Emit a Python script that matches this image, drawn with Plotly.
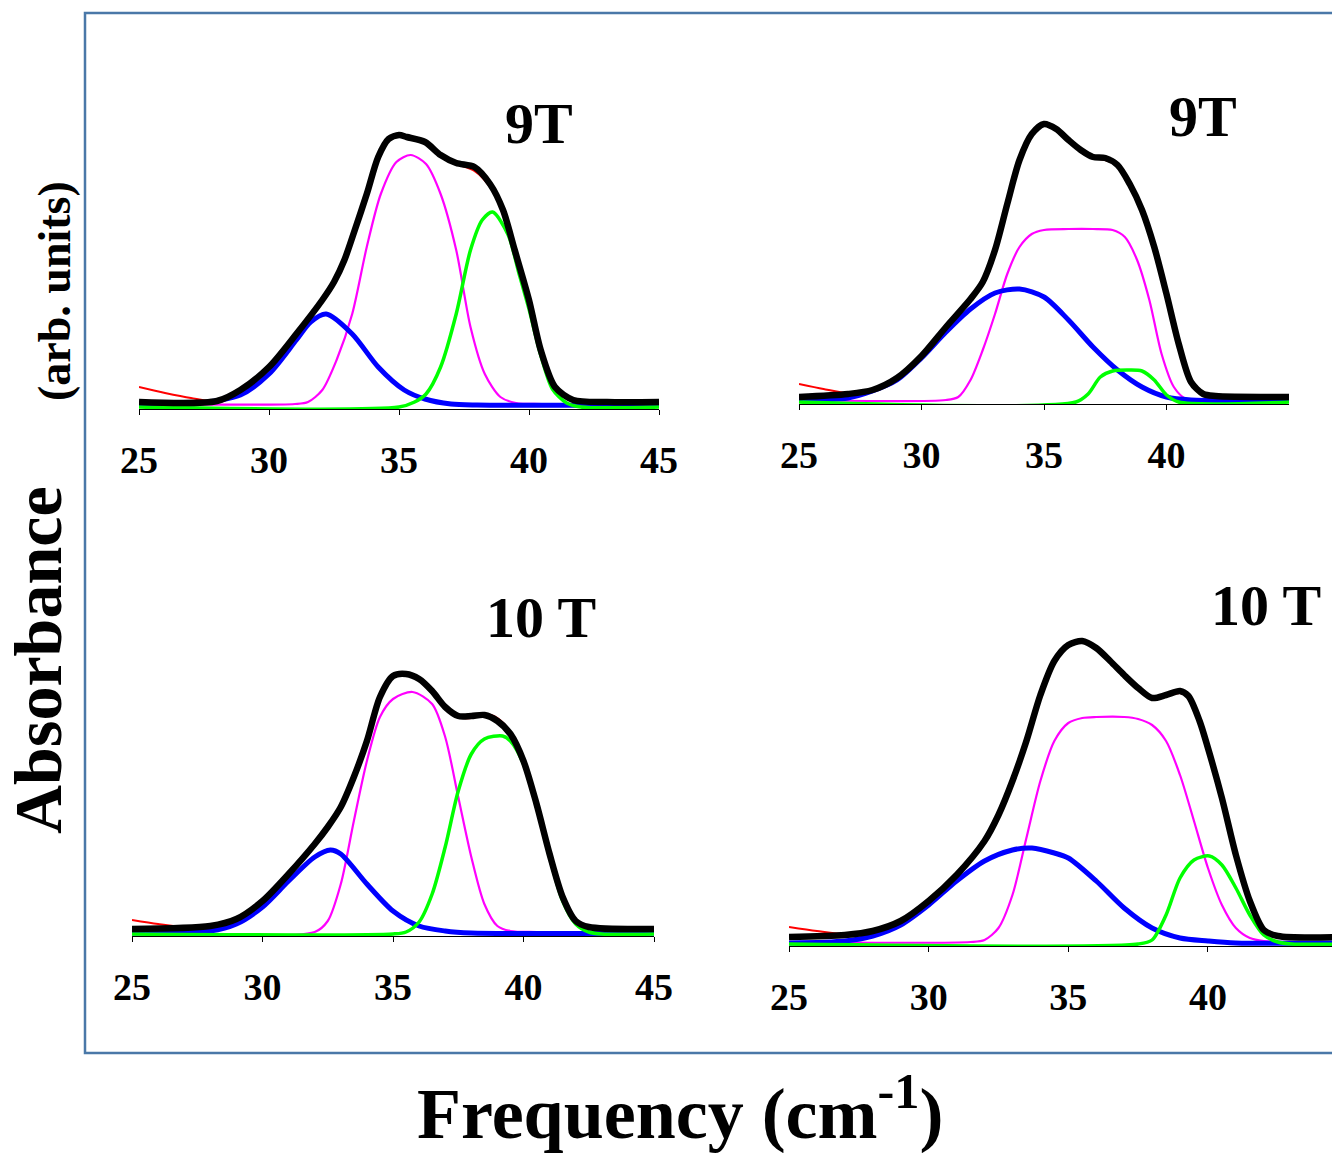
import plotly.graph_objects as go

W, H = 1340, 1153
OFF = 8  # page body margin of the browser; positions below are screen pixels

# ---------------- data (heights in arbitrary absorbance units) ----------------
TICKS_FULL = [25, 30, 35, 40, 45]
TICKS_SHORT = [25, 30, 35, 40]
LABELS = ["9T", "9T", "10 T", "10 T"]

# Top-left panel (9T)
TL_BLACK_X = [25, 28, 28.9, 30, 31.05, 32.05, 32.5, 32.9, 33.3, 33.76, 34.2, 34.6, 35, 35.3, 36.0, 36.6, 37.2, 37.9, 38.5, 39.0, 39.45, 40, 40.45, 41.0, 41.7, 43, 45]
TL_BLACK_Y = [5, 6, 17, 40, 73, 107, 125, 147, 177, 213, 250, 268, 272, 270, 265, 252, 244, 240, 223, 197, 157, 107, 57, 20, 7, 5, 5]
TL_RED_X = [25, 26, 27, 28, 28.9, 30, 31.05, 32.05, 32.5, 32.9, 33.3, 33.76, 34.2, 34.6, 35, 35.3, 36.0, 36.6, 37.2, 37.9, 38.5, 39.0, 39.45, 40, 40.45, 41.0, 41.7, 43, 45]
TL_RED_Y = [20, 14, 9, 6, 17, 41, 74, 108, 126, 149, 179, 214, 250, 268, 271, 269, 264, 251, 243, 236, 220, 196, 158, 107, 57, 20, 7, 5, 5]
TL_BLUE_X = [25, 27, 28.9, 30, 31.05, 31.6, 32.2, 33.2, 34.2, 35.2, 36, 37, 38, 45]
TL_BLUE_Y = [2, 3, 12, 33, 67, 85, 93, 73, 40, 17, 8, 3, 2, 2]
TL_MAG_X = [25, 31, 31.5, 32.05, 32.6, 33.2, 33.76, 34.3, 34.9, 35.45, 36.04, 36.6, 37.2, 37.75, 38.3, 38.9, 39.5, 40.5, 45]
TL_MAG_Y = [3, 3, 5, 17, 47, 93, 160, 213, 245, 252, 243, 213, 157, 80, 33, 10, 4, 3, 3]
TL_GRN_X = [25, 35, 35.6, 36.04, 36.6, 37.2, 37.75, 38.2, 38.6, 39.2, 39.6, 40.0, 40.45, 40.9, 41.45, 42, 45]
TL_GRN_Y = [0, 0, 5, 13, 40, 93, 157, 187, 195, 172, 135, 98, 52, 18, 4, 0, 0]

# Top-right panel (9T)
TR_BLACK_X = [25, 27, 28, 29, 30, 31, 32, 32.5, 33, 33.5, 34, 34.5, 35, 35.5, 36, 36.5, 37, 37.5, 38, 38.5, 39, 39.5, 40, 40.5, 41, 41.5, 42, 45]
TR_BLACK_Y = [5, 8, 12, 24, 46, 75, 103, 120, 152, 198, 242, 268, 278, 273, 262, 252, 245, 244, 237, 218, 192, 155, 108, 58, 20, 8, 6, 5]
TR_RED_X = [25, 26, 27, 28, 29, 30, 31, 32, 32.5, 33, 33.5, 34, 34.5, 35, 35.5, 36, 36.5, 37, 37.5, 38, 38.5, 39, 39.5, 40, 40.5, 41, 41.5, 42, 45]
TR_RED_Y = [18, 13, 9, 12, 24, 47, 76, 104, 121, 153, 199, 242, 267, 277, 272, 261, 251, 244, 242, 236, 220, 195, 160, 112, 60, 21, 8, 6, 5]
TR_BLUE_X = [25, 27, 28, 29, 30, 31, 32, 33, 34, 35, 36, 37, 38, 39, 40, 41, 45]
TR_BLUE_Y = [2, 4, 11, 22, 44, 70, 93, 109, 113, 105, 82, 55, 32, 15, 5, 2, 2]
TR_MAG_X = [25, 31, 31.5, 32, 32.5, 33, 33.5, 34, 34.5, 35, 36, 37, 37.8, 38.3, 38.8, 39.3, 39.8, 40.3, 40.8, 41.5, 45]
TR_MAG_Y = [2, 2, 5, 22, 52, 88, 128, 155, 168, 172, 173, 173, 172, 165, 142, 102, 48, 15, 3, 2, 2]
TR_GRN_X = [25, 36.3, 36.8, 37.3, 37.8, 38.5, 39.0, 39.5, 40.0, 40.5, 45]
TR_GRN_Y = [0, 0, 8, 25, 31, 32, 31, 22, 7, 0, 0]

# Bottom-left panel (10 T)
BL_BLACK_X = [25, 28, 29, 30, 31, 32, 32.5, 33, 33.5, 34, 34.5, 35, 35.5, 36, 36.5, 37, 37.5, 38, 38.5, 39, 39.5, 40, 40.5, 41, 41.5, 42, 42.5, 45]
BL_BLACK_Y = [5, 8, 15, 33, 60, 90, 107, 127, 157, 193, 237, 258, 260, 255, 243, 227, 218, 218, 219, 213, 200, 173, 130, 80, 37, 13, 7, 5]
BL_RED_X = [25, 26, 27, 28, 29, 30, 31, 32, 32.5, 33, 33.5, 34, 34.5, 35, 35.5, 36, 36.5, 37, 37.5, 38, 38.5, 39, 39.5, 40, 40.5, 41, 41.5, 42, 42.5, 45]
BL_RED_Y = [14, 10, 7, 8, 16, 34, 61, 91, 108, 128, 158, 195, 238, 258, 259, 254, 242, 226, 217, 216, 220, 216, 202, 174, 131, 80, 37, 13, 7, 5]
BL_BLUE_X = [25, 28, 29, 30, 31, 32, 32.6, 33, 34, 35, 36, 37, 38, 45]
BL_BLUE_Y = [1, 3, 10, 27, 53, 77, 84, 80, 50, 23, 8, 3, 1, 1]
BL_MAG_X = [25, 32, 32.5, 33, 33.5, 34, 34.5, 35, 35.75, 36.5, 37, 37.5, 38, 38.5, 39, 39.5, 40.5, 45]
BL_MAG_Y = [2, 2, 13, 50, 113, 173, 217, 235, 242, 230, 197, 137, 77, 30, 8, 3, 2, 2]
BL_GRN_X = [25, 35, 35.5, 36, 36.5, 37, 37.5, 38, 38.5, 39.2, 39.5, 40, 40.5, 41, 41.5, 42, 42.5, 43, 45]
BL_GRN_Y = [0, 0, 2, 12, 40, 87, 143, 180, 195, 198, 193, 170, 127, 77, 33, 10, 2, 0, 0]

# Bottom-right panel (10 T)
BR_BLACK_X = [25, 27, 28, 29, 30, 31, 32, 32.5, 33, 33.5, 34, 34.5, 35, 35.5, 36, 36.5, 37, 37.5, 38, 38.5, 39, 39.3, 39.7, 40, 40.5, 41, 41.5, 42, 42.5, 45]
BR_BLACK_Y = [7, 9, 13, 23, 43, 69, 103, 129, 163, 203, 249, 283, 299, 303, 296, 283, 269, 256, 246, 249, 253, 248, 223, 196, 146, 89, 43, 14, 8, 7]
BR_RED_X = [25, 26, 27, 28, 29, 30, 31, 32, 32.5, 33, 33.5, 34, 34.5, 35, 35.5, 36, 36.5, 37, 37.5, 38, 38.5, 39, 39.3, 39.7, 40, 40.5, 41, 41.5, 42, 42.5, 45]
BR_RED_Y = [17, 13, 10, 13, 23, 44, 70, 104, 130, 164, 204, 249, 282, 298, 302, 295, 282, 268, 255, 246, 248, 251, 247, 225, 199, 148, 90, 43, 14, 8, 7]
BR_BLUE_X = [25, 27, 28, 29, 30, 31, 32, 33, 33.7, 34.5, 35, 36, 37, 38, 39, 40, 41, 45]
BR_BLUE_Y = [1, 3, 8, 19, 39, 63, 83, 94, 96, 91, 86, 63, 36, 16, 6, 3, 1, 1]
BR_MAG_X = [25, 31.5, 32, 32.5, 33, 33.5, 34, 34.5, 35, 35.5, 36, 37, 37.5, 38, 38.5, 39, 39.5, 40, 40.5, 41, 41.5, 42, 43, 45]
BR_MAG_Y = [2, 2, 4, 16, 49, 106, 163, 203, 221, 226, 227, 227, 225, 219, 203, 169, 123, 76, 39, 16, 6, 3, 2, 2]
BR_GRN_X = [25, 37.5, 38, 38.5, 39, 39.5, 40.05, 40.5, 41, 41.5, 42, 42.5, 43, 45]
BR_GRN_Y = [0, 0, 4, 29, 66, 84, 88, 79, 56, 29, 9, 2, 0, 0]


def sx(px):
    return (px - OFF) / W


def sy(py):
    return 1 - (py - OFF) / H


# ---------------- layout geometry (screen pixels) ----------------
PANELS = [
    dict(x0=139, x1=659, xmax=45, yb=409, yt=100, ymin=-2, ticks=TICKS_FULL),
    dict(x0=799, x1=1289, xmax=45, yb=404, yt=95, ymin=-2, ticks=TICKS_SHORT),
    dict(x0=132, x1=654, xmax=45, yb=936, yt=640, ymin=-2, ticks=TICKS_FULL),
    dict(x0=789, x1=W + OFF, xmax=25 + (W + OFF - 789) / 27.93, yb=946, yt=620, ymin=-2, ticks=TICKS_SHORT),
]

SERIES = [
    (TL_MAG_X, TL_MAG_Y, TL_BLUE_X, TL_BLUE_Y, TL_GRN_X, TL_GRN_Y, TL_RED_X, TL_RED_Y, TL_BLACK_X, TL_BLACK_Y),
    (TR_MAG_X, TR_MAG_Y, TR_BLUE_X, TR_BLUE_Y, TR_GRN_X, TR_GRN_Y, TR_RED_X, TR_RED_Y, TR_BLACK_X, TR_BLACK_Y),
    (BL_MAG_X, BL_MAG_Y, BL_BLUE_X, BL_BLUE_Y, BL_GRN_X, BL_GRN_Y, BL_RED_X, BL_RED_Y, BL_BLACK_X, BL_BLACK_Y),
    (BR_MAG_X, BR_MAG_Y, BR_BLUE_X, BR_BLUE_Y, BR_GRN_X, BR_GRN_Y, BR_RED_X, BR_RED_Y, BR_BLACK_X, BR_BLACK_Y),
]

FONT = "Liberation Serif, Times New Roman, serif"

fig = go.Figure()
layout = dict(
    template="none",
    width=W, height=H, margin=dict(l=0, r=0, t=0, b=0, autoexpand=False),
    paper_bgcolor="white", plot_bgcolor="rgba(0,0,0,0)", showlegend=False,
    font=dict(family=FONT, color="black"),
)

styles = [
    ("#ff00ff", 2.2),   # magenta
    ("#0000ff", 5.0),   # blue
    ("#00ff00", 3.5),   # green
    ("#ff0000", 2.0),   # red fit
    ("#000000", 6.5),   # black data
]

for i, (p, s) in enumerate(zip(PANELS, SERIES)):
    n = i + 1
    xa = f"x{n}" if n > 1 else "x"
    ya = f"y{n}" if n > 1 else "y"
    for k, (col, wdt) in enumerate(styles):
        fig.add_trace(go.Scatter(
            x=s[2 * k], y=s[2 * k + 1], mode="lines",
            line=dict(color=col, width=wdt, shape="spline", smoothing=0.8),
            xaxis=xa, yaxis=ya, hoverinfo="skip",
        ))
    span_y = p["yb"] - p["yt"]
    layout[f"xaxis{n if n > 1 else ''}"] = dict(
        domain=[sx(p["x0"]), min(1.0, sx(p["x1"]))], range=[25, p["xmax"]],
        anchor=ya, showline=True, linecolor="black", linewidth=1,
        ticks="outside", ticklen=5, tickcolor="black", tickwidth=1,
        tickvals=p["ticks"], ticktext=[str(t) for t in p["ticks"]],
        showgrid=False, zeroline=False, ticklabelstandoff=12, automargin=False,
        tickfont=dict(family=FONT, size=38, color="black", weight="bold"),
    )
    layout[f"yaxis{n if n > 1 else ''}"] = dict(
        domain=[sy(p["yb"]), sy(p["yt"])],
        range=[p["ymin"], p["ymin"] + span_y], automargin=False,
        anchor=xa, visible=False, showgrid=False, zeroline=False,
    )

fig.update_layout(**layout)

# panel labels
label_pos = [(539, 123), (1203, 117), (541, 617), (1266, 606)]
for (px, py), txt in zip(label_pos, LABELS):
    fig.add_annotation(x=sx(px), y=sy(py), xref="paper", yref="paper",
                       text=txt, showarrow=False, xanchor="center", yanchor="middle",
                       font=dict(family=FONT, size=58, color="black", weight="bold"))

# axis titles
fig.add_annotation(x=sx(38), y=sy(660), xref="paper", yref="paper",
                   text="Absorbance", textangle=-90, showarrow=False,
                   xanchor="center", yanchor="middle",
                   font=dict(family=FONT, size=68, color="black", weight="bold"))
fig.add_annotation(x=sx(54), y=sy(291), xref="paper", yref="paper",
                   text="(arb. units)", textangle=-90, showarrow=False,
                   xanchor="center", yanchor="middle",
                   font=dict(family=FONT, size=46, color="black", weight="bold"))
fig.add_annotation(x=sx(680), y=sy(1108), xref="paper", yref="paper",
                   text="Frequency (cm<sup>-1</sup>)", showarrow=False,
                   xanchor="center", yanchor="middle",
                   font=dict(family=FONT, size=72, color="black", weight="bold"))

# surrounding frame
fig.add_shape(type="rect", xref="paper", yref="paper",
              x0=sx(85), x1=1.02, y0=sy(1053), y1=sy(13),
              line=dict(color="#4a78a8", width=2.5), fillcolor="rgba(0,0,0,0)", layer="below")

fig.write_html("out.html")
